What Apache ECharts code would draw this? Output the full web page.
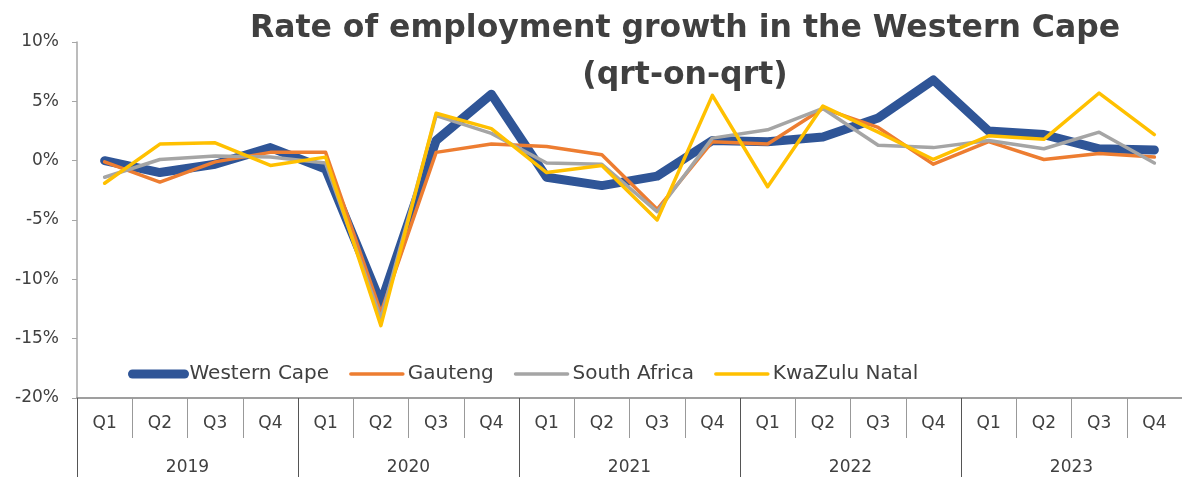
<!DOCTYPE html>
<html>
<head>
<meta charset="utf-8">
<title>Rate of employment growth in the Western Cape</title>
<script src="https://cdn.jsdelivr.net/npm/echarts@6/dist/echarts.min.js"></script>
<style>
  html, body { margin: 0; padding: 0; background: #fff; }
  #chart { width: 1182px; height: 477px; }
</style>
</head>
<body>
<div id="chart"></div>
<script>
const quarters = ['Q1', 'Q2', 'Q3', 'Q4', 'Q1', 'Q2', 'Q3', 'Q4', 'Q1', 'Q2', 'Q3', 'Q4',
  'Q1', 'Q2', 'Q3', 'Q4', 'Q1', 'Q2', 'Q3', 'Q4'];
const years = ['2019', '2020', '2021', '2022', '2023'];

const westernCape = [0.0, -1.0, -0.3, 1.1, -0.7, -12.0, 1.7, 5.6,
  -1.4, -2.1, -1.3, 1.7, 1.6, 2.0, 3.6, 6.8, 2.5, 2.2, 1.0, 0.9];
const gauteng = [-0.1, -1.8, -0.1, 0.7, 0.7, -12.8, 0.7, 1.4,
  1.2, 0.5, -4.1, 1.6, 1.4, 4.4, 2.8, -0.3, 1.6, 0.1, 0.6, 0.3];
const southAfrica = [-1.4, 0.1, 0.4, 0.3, -0.2, -13.3, 3.8, 2.3,
  -0.2, -0.3, -4.3, 1.9, 2.6, 4.4, 1.3, 1.1, 1.7, 1.0, 2.4, -0.2];
const kwaZuluNatal = [-1.9, 1.4, 1.5, -0.4, 0.3, -13.9, 4.0, 2.7,
  -1.0, -0.4, -5.0, 5.5, -2.2, 4.6, 2.4, 0.1, 2.1, 1.8, 5.7, 2.2];

const yTicks = { min: -20, max: 10, interval: 5 };

const font = 'DejaVu Sans';
const textColor = '#404040';

const seriesDefs = [
  { name: 'Western Cape', data: westernCape, color: '#2F5597', width: 9 },
  { name: 'Gauteng', data: gauteng, color: '#ED7D31', width: 3.5 },
  { name: 'South Africa', data: southAfrica, color: '#A5A5A5', width: 3.5 },
  { name: 'KwaZulu Natal', data: kwaZuluNatal, color: '#FFC000', width: 3.5 },
];

const chart = echarts.init(document.getElementById('chart'));

chart.setOption({
  animation: false,
  title: {
    text: 'Rate of employment growth in the Western Cape\n(qrt-on-qrt)',
    left: 680,
    top: 0,
    textAlign: 'center',
    textStyle: {
      fontFamily: font,
      fontWeight: 'bold',
      fontSize: 31.5,
      lineHeight: 47,
      color: textColor,
    },
  },
  legend: {
    left: 123,
    top: 359,
    itemWidth: 52,
    itemHeight: 10,
    itemGap: 20,
    itemStyle: { opacity: 0 },
    textStyle: { fontFamily: font, fontSize: 20, color: textColor },
    data: seriesDefs.map((s) => ({
      name: s.name,
      lineStyle: { width: s.width, cap: 'round' },
    })),
  },
  grid: { left: 77, top: 42, width: 1110, height: 356 },
  xAxis: [
    {
      type: 'category',
      data: quarters,
      boundaryGap: true,
      axisLine: { show: true, onZero: false, lineStyle: { color: '#808080', width: 1.5 } },
      axisTick: { show: true, interval: 0, length: 40, lineStyle: { color: '#999' } },
      axisLabel: { interval: 0, margin: 17, fontFamily: font, fontSize: 17, color: textColor },
      splitLine: { show: false },
    },
    {
      type: 'category',
      data: years,
      position: 'bottom',
      boundaryGap: true,
      axisLine: { show: false, onZero: false },
      axisTick: { show: true, interval: 0, length: 82, lineStyle: { color: '#555' } },
      axisLabel: { interval: 0, margin: 61, fontFamily: font, fontSize: 17, color: textColor },
      splitLine: { show: false },
    },
  ],
  yAxis: {
    type: 'value',
    min: yTicks.min,
    max: yTicks.max,
    interval: yTicks.interval,
    axisLine: { show: true, lineStyle: { color: '#a6a6a6', width: 1.5 } },
    axisTick: { show: true, length: 5, lineStyle: { color: '#a6a6a6' } },
    axisLabel: {
      formatter: (v) => v + '%',
      margin: 18,
      fontFamily: font,
      fontSize: 17,
      color: textColor,
    },
    splitLine: { show: false },
  },
  series: seriesDefs.map((s) => ({
    name: s.name,
    type: 'line',
    data: s.data,
    xAxisIndex: 0,
    symbol: 'none',
    lineStyle: { color: s.color, width: s.width, cap: 'round', join: 'round' },
    itemStyle: { color: s.color },
  })),
});
</script>
</body>
</html>
